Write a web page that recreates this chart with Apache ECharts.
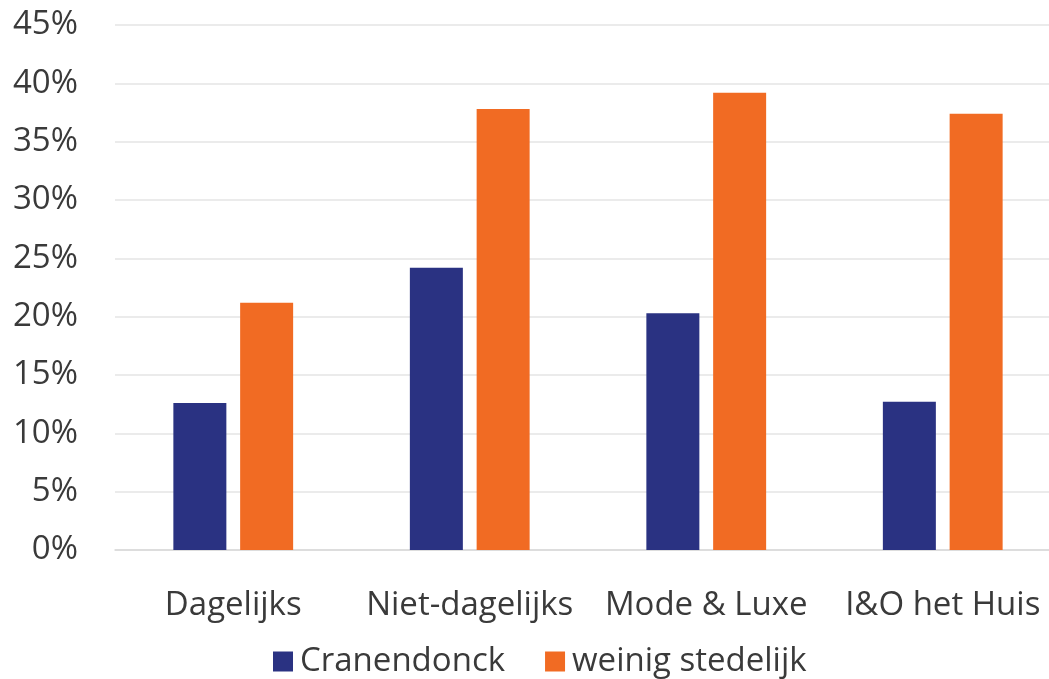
<!DOCTYPE html>
<html>
<head>
<meta charset="utf-8">
<script src="https://cdn.jsdelivr.net/npm/echarts@6/dist/echarts.min.js"></script>
<style>
  html, body { margin: 0; padding: 0; background: #fff; overflow: hidden; }
  /* the plot runs slightly past the right edge of the window */
  #chart { width: 1061px; height: 679px; }
</style>
</head>
<body>
<div id="chart"></div>
<script>
// Share of spending per shopping category
const categories = ['Dagelijks', 'Niet-dagelijks', 'Mode & Luxe', 'I&O het Huis'];
const cranendonck = [12.6, 24.2, 20.3, 12.7];
const weinigStedelijk = [21.2, 37.8, 39.2, 37.4];
const seriesNames = ['Cranendonck', 'weinig stedelijk'];

const FONT = '"Open Sans", "Noto Sans", sans-serif';
const TEXT = '#3a3a3a';

const chart = echarts.init(document.getElementById('chart'), null, { renderer: 'canvas' });
chart.setOption({
  animation: false,
  backgroundColor: '#ffffff',
  grid: { left: 115, top: 25, right: 0, height: 525, containLabel: false },
  legend: {
    data: seriesNames,
    left: 268, top: 640,
    itemWidth: 20, itemHeight: 20, itemGap: 40,
    icon: 'rect',
    textStyle: { fontFamily: FONT, fontSize: 33, color: TEXT, padding: [0, 0, 0, 2] }
  },
  xAxis: {
    type: 'category',
    data: categories,
    axisLine: { show: true, lineStyle: { color: '#d9d9d9', width: 1.5 } },
    axisTick: { show: false },
    axisLabel: { fontFamily: FONT, fontSize: 33, color: TEXT, margin: 39, interval: 0, hideOverlap: false }
  },
  yAxis: {
    type: 'value',
    min: 0, max: 45, interval: 5,
    axisLine: { show: false },
    axisTick: { show: false },
    splitLine: { lineStyle: { color: '#e4e4e4', width: 1.5 } },
    axisLabel: { fontFamily: FONT, fontSize: 33, color: TEXT, margin: 37, formatter: v => v + '%' }
  },
  series: [
    {
      name: seriesNames[0], type: 'bar', data: cranendonck,
      barWidth: 53, barGap: '26%',
      itemStyle: { color: '#2a3282' }
    },
    {
      name: seriesNames[1], type: 'bar', data: weinigStedelijk,
      barWidth: 53, barGap: '26%',
      itemStyle: { color: '#f16b23' }
    }
  ]
});
</script>
</body>
</html>
